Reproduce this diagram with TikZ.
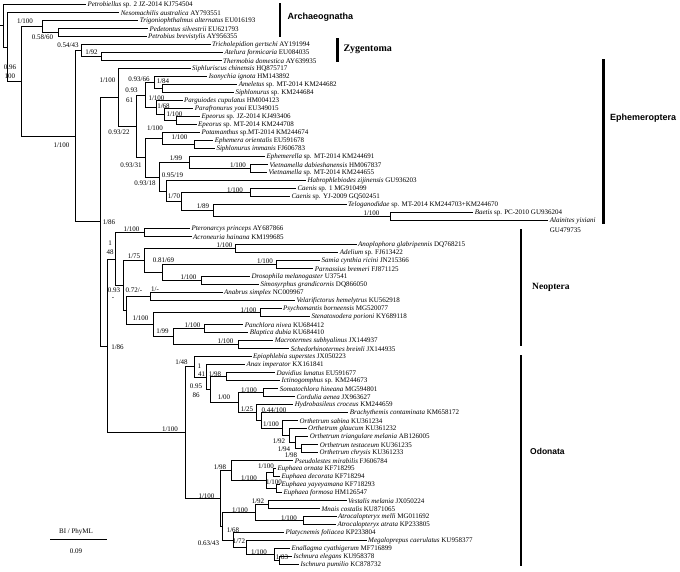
\documentclass[tikz,border=0pt]{standalone}
\usepackage{fontspec}
\setmainfont{Liberation Serif}
\newfontfamily\hsans{Liberation Sans}
\begin{document}
\begin{tikzpicture}[x=1pt,y=-1pt,
  br/.style={line width=1pt},
  lf/.style={anchor=west,inner sep=1.3pt,font=\fontsize{7}{8}\selectfont},
  sv/.style={inner sep=0pt,font=\fontsize{7}{8}\selectfont},
  cbar/.style={line width=2.8pt},
  cls/.style={anchor=west,inner sep=0pt,font=\hsans\bfseries\fontsize{9}{10}\selectfont},
  clr/.style={anchor=west,inner sep=0pt,font=\bfseries\fontsize{9.5}{10}\selectfont}]
\useasboundingbox (0,0) rectangle (680,571);
% internal nodes
\coordinate (rs) at (0,25.9);
\coordinate (root) at (3,25.9);
\coordinate (B) at (7,47.1);
\coordinate (A) at (21.7,81.5);
\coordinate (Tr) at (42.7,26.7);
\coordinate (PP) at (58,32.7);
\coordinate (C) at (75,136.25);
\coordinate (Zy) at (81.7,50.7);
\coordinate (AT) at (101.7,56.7);
\coordinate (P) at (100,221.8);
\coordinate (E) at (118.3,97.6);
\coordinate (n22) at (136,126.5);
\coordinate (n61) at (145.7,95.2);
\coordinate (nIso) at (154,82.7);
\coordinate (nAS) at (162.3,88.7);
\coordinate (nHep) at (156.7,107.7);
\coordinate (nPE) at (164,114.7);
\coordinate (nEp) at (176.7,120.7);
\coordinate (n31) at (145.7,157.9);
\coordinate (nPot) at (162.3,138.7);
\coordinate (nEph) at (194.3,144.7);
\coordinate (n18) at (159.3,177);
\coordinate (n99) at (189.3,162.7);
\coordinate (nViet) at (250.7,168.7);
\coordinate (n19) at (166.7,191.2);
\coordinate (n70) at (181,201.7);
\coordinate (nC) at (250.7,192.7);
\coordinate (n89) at (213.3,210.7);
\coordinate (nBae) at (390,216.7);
\coordinate (NO) at (107.3,346.0);
\coordinate (N) at (115,259.2);
\coordinate (nPl) at (144,232.7);
\coordinate (N2) at (123,285.7);
\coordinate (n75) at (144,260.7);
\coordinate (nCol) at (235,248.7);
\coordinate (n69) at (162.3,272.7);
\coordinate (nLep) at (276.7,264.7);
\coordinate (nDip) at (201.7,280.7);
\coordinate (n72) at (126,310.7);
\coordinate (nOrt) at (150,296.7);
\coordinate (nDict) at (153.3,324.7);
\coordinate (nMant) at (260,312.7);
\coordinate (nBl) at (173.3,336.7);
\coordinate (nBc) at (204.3,328.7);
\coordinate (nTe) at (238.3,344.7);
\coordinate (Od) at (185,432.8);
\coordinate (n48) at (194.3,366.95);
\coordinate (n41) at (206,377.2);
\coordinate (n86) at (210.7,389.7);
\coordinate (nGo) at (226.7,376.7);
\coordinate (nLib) at (238.3,402.65);
\coordinate (nSo) at (263.3,392.7);
\coordinate (n25) at (256.7,412.6);
\coordinate (n44) at (261.7,420.45);
\coordinate (nOr) at (282.7,428.2);
\coordinate (n92) at (289.3,435.7);
\coordinate (n94) at (295,442.7);
\coordinate (n98) at (301.7,448.7);
\coordinate (OdZ) at (220,498.6);
\coordinate (n98Z) at (231.7,470.7);
\coordinate (nEu) at (266.7,480.7);
\coordinate (nOD) at (273,472.7);
\coordinate (nYF) at (276,488.7);
\coordinate (n43) at (222.7,526.45);
\coordinate (nCal) at (255,512.7);
\coordinate (nVM) at (268.3,504.7);
\coordinate (nAt) at (303.3,520.7);
\coordinate (n68) at (233.3,540.2);
\coordinate (n72Z) at (246.7,547.7);
\coordinate (nEn) at (274,554.7);
\coordinate (nIs) at (279,560.7);
% leaves
\node[lf] (l0) at (86,4.7) {\textit{Petrobiellus} sp. 2 JZ-2014 KJ754504};
\node[lf] (l1) at (119.3,12.7) {\textit{Nesomachilis australica} AY793551};
\node[lf] (l2) at (138.3,20.7) {\textit{Trigoniophthalmus alternatus} EU016193};
\node[lf] (l3) at (148,28.7) {\textit{Pedetontus silvestrii} EU621793};
\node[lf] (l4) at (146.5,36.7) {\textit{Petrobius brevistylis} AY956355};
\node[lf] (l5) at (210.7,44.7) {\textit{Tricholepidion gertschi} AY191994};
\node[lf] (l6) at (223,52.7) {\textit{Atelura formicaria} EU084035};
\node[lf] (l7) at (221.7,60.7) {\textit{Thermobia domestica} AY639935};
\node[lf] (l8) at (190.7,68.7) {\textit{Siphluriscus chinensis} HQ875717};
\node[lf] (l9) at (207.3,76.7) {\textit{Isonychia ignota} HM143892};
\node[lf] (l10) at (237.3,84.7) {\textit{Ameletus} sp. MT-2014 KM244682};
\node[lf] (l11) at (234,92.7) {\textit{Siphlonurus} sp. KM244684};
\node[lf] (l12) at (182.7,100.7) {\textit{Parguiodes cupulatus} HM004123};
\node[lf] (l13) at (193.3,108.7) {\textit{Parafronurus youi} EU349015};
\node[lf] (l14) at (200,116.7) {\textit{Epeorus} sp. JZ-2014 KJ493406};
\node[lf] (l15) at (196.7,124.7) {\textit{Epeorus} sp. MT-2014 KM244708};
\node[lf] (l16) at (200,132.7) {\textit{Potamanthus} sp.MT-2014 KM244674};
\node[lf] (l17) at (213.3,140.7) {\textit{Ephemera orientalis} EU591678};
\node[lf] (l18) at (215,148.7) {\textit{Siphlonurus immanis} FJ606783};
\node[lf] (l19) at (265,156.7) {\textit{Ephemerella} sp. MT-2014 KM244691};
\node[lf] (l20) at (268,164.7) {\textit{Vietnamella dabieshanensis} HM067837};
\node[lf] (l21) at (267,172.7) {\textit{Vietnamella} sp. MT-2014 KM244655};
\node[lf] (l22) at (306,180.7) {\textit{Habrophlebiodes zijinensis} GU936203};
\node[lf] (l23) at (296,188.7) {\textit{Caenis} sp. 1 MG910499};
\node[lf] (l24) at (290,196.7) {\textit{Caenis} sp. YJ-2009 GQ502451};
\node[lf] (l25) at (346.7,204.7) {\textit{Teloganodidae} sp. MT-2014 KM244703+KM244670};
\node[lf] (l26) at (473.3,212.7) {\textit{Baetis} sp. PC-2010 GU936204};
\node[lf] (l27) at (548.3,220.7) {\textit{Alainites yixiani}};
\node[lf] (gu) at (548.3,230.7) {GU479735};
\node[lf] (l28) at (190,228.7) {\textit{Pteronarcys princeps} AY687866};
\node[lf] (l29) at (191.7,236.7) {\textit{Acroneuria hainana} KM199685};
\node[lf] (l30) at (356.7,244.7) {\textit{Anoplophora glabripennis} DQ768215};
\node[lf] (l31) at (338.3,252.7) {\textit{Adelium} sp. FJ613422};
\node[lf] (l32) at (320,260.7) {\textit{Samia cynthia ricini} JN215366};
\node[lf] (l33) at (313.3,268.7) {\textit{Parnassius bremeri} FJ871125};
\node[lf] (l34) at (250,276.7) {\textit{Drosophila melanogaster} U37541};
\node[lf] (l35) at (259,284.7) {\textit{Simosyrphus grandicornis} DQ866050};
\node[lf] (l36) at (222.7,292.7) {\textit{Anabrus simplex} NC009967};
\node[lf] (l37) at (295,300.7) {\textit{Velarifictorus hemelytrus} KU562918};
\node[lf] (l38) at (281.7,308.7) {\textit{Psychomantis borneensis} MG520077};
\node[lf] (l39) at (310,316.7) {\textit{Stenatoxodera porioni} KY689118};
\node[lf] (l40) at (243.3,324.7) {\textit{Panchlora nivea} KU684412};
\node[lf] (l41) at (248.3,332.7) {\textit{Blaptica dubia} KU684410};
\node[lf] (l42) at (273.3,340.7) {\textit{Macrotermes subhyalinus} JX144937};
\node[lf] (l43) at (289.3,348.7) {\textit{Schedorhinotermes breinli} JX144935};
\node[lf] (l44) at (251.7,356.7) {\textit{Epiophlebia superstes} JX050223};
\node[lf] (l45) at (245,364.7) {\textit{Anax imperator} KX161841};
\node[lf] (l46) at (275,372.7) {\textit{Davidius lunatus} EU591677};
\node[lf] (l47) at (280,380.7) {\textit{Ictinogomphus} sp. KM244673};
\node[lf] (l48) at (278.3,388.7) {\textit{Somatochlora hineana} MG594801};
\node[lf] (l49) at (295,396.7) {\textit{Cordulia aenea} JX963627};
\node[lf] (l50) at (293.3,404.7) {\textit{Hydrobasileus croceus} KM244659};
\node[lf] (l51) at (348.3,412.7) {\textit{Brachythemis contaminata} KM658172};
\node[lf] (l52) at (298,420.7) {\textit{Orthetrum sabina} KU361234};
\node[lf] (l53) at (306.7,428.7) {\textit{Orthetrum glaucum} KU361232};
\node[lf] (l54) at (308.3,436.7) {\textit{Orthetrum triangulare melania} AB126005};
\node[lf] (l55) at (318.3,444.7) {\textit{Orthetrum testaceum} KU361235};
\node[lf] (l56) at (318,452.7) {\textit{Orthetrum chrysis} KU361233};
\node[lf] (l57) at (293.3,460.7) {\textit{Pseudolestes mirabilis} FJ606784};
\node[lf] (l58) at (276,468.7) {\textit{Euphaea ornata} KF718295};
\node[lf] (l59) at (280,476.7) {\textit{Euphaea decorata} KF718294};
\node[lf] (l60) at (280,484.7) {\textit{Euphaea yayeyamana} KF718293};
\node[lf] (l61) at (282,492.7) {\textit{Euphaea formosa} HM126547};
\node[lf] (l62) at (346.7,500.7) {\textit{Vestalis melania} JX050224};
\node[lf] (l63) at (320,508.7) {\textit{Mnais costalis} KU871065};
\node[lf] (l64) at (336.7,516.7) {\textit{Atrocalopteryx melli} MG011692};
\node[lf] (l65) at (336,524.7) {\textit{Atrocalopteryx atrata} KP233805};
\node[lf] (l66) at (284,532.7) {\textit{Platycnemis foliacea} KP233804};
\node[lf] (l67) at (366.7,540.7) {\textit{Megaloprepus caerulatus} KU958377};
\node[lf] (l68) at (290,548.7) {\textit{Enallagma cyathigerum} MF716899};
\node[lf] (l69) at (292,556.7) {\textit{Ischnura elegans} KU958378};
\node[lf] (l70) at (299,564.7) {\textit{Ischnura pumilio} KC878732};
% branches
\draw[br] (rs) -- (root);
\foreach \p/\c in {root/l0,root/B,B/l1,B/A,A/Tr,A/C,Tr/l2,Tr/PP,PP/l3,PP/l4,
  C/Zy,C/P,Zy/l5,Zy/AT,AT/l6,AT/l7,P/E,P/NO,E/l8,E/n22,n22/n61,n22/n31,
  n61/nIso,n61/nHep,nIso/l9,nIso/nAS,nAS/l10,nAS/l11,nHep/l12,nHep/nPE,
  nPE/l13,nPE/nEp,nEp/l14,nEp/l15,n31/nPot,n31/n18,nPot/l16,nPot/nEph,
  nEph/l17,nEph/l18,n18/n99,n18/n19,n99/l19,n99/nViet,nViet/l20,nViet/l21,
  n19/l22,n19/n70,n70/nC,n70/n89,nC/l23,nC/l24,n89/l25,n89/nBae,nBae/l26,nBae/l27,
  NO/N,NO/Od,N/nPl,N/N2,nPl/l28,nPl/l29,N2/n75,N2/n72,n75/nCol,n75/n69,
  nCol/l30,nCol/l31,n69/nLep,n69/nDip,nLep/l32,nLep/l33,nDip/l34,nDip/l35,
  n72/nOrt,n72/nDict,nOrt/l36,nOrt/l37,nDict/nMant,nDict/nBl,nMant/l38,nMant/l39,
  nBl/nBc,nBl/nTe,nBc/l40,nBc/l41,nTe/l42,nTe/l43,
  Od/n48,Od/OdZ,n48/l44,n48/n41,n41/l45,n41/n86,n86/nGo,n86/nLib,nGo/l46,nGo/l47,
  nLib/nSo,nLib/n25,nSo/l48,nSo/l49,n25/l50,n25/n44,n44/l51,n44/nOr,nOr/l52,nOr/n92,
  n92/l53,n92/n94,n94/l54,n94/n98,n98/l55,n98/l56,
  OdZ/n98Z,OdZ/n43,n98Z/l57,n98Z/nEu,nEu/nOD,nEu/nYF,nOD/l58,nOD/l59,nYF/l60,nYF/l61,
  n43/nCal,n43/n68,nCal/nVM,nCal/nAt,nVM/l62,nVM/l63,nAt/l64,nAt/l65,
  n68/l66,n68/n72Z,n72Z/l67,n72Z/nEn,nEn/l68,nEn/nIs,nIs/l69,nIs/l70}
  {\draw[br] (\p) |- (\c);}
% support values
\foreach \x/\y/\t in {25/21.7/1\slash 100, 42.5/37.3/0.58\slash 60, 68/45/0.54\slash 43,
  91.5/52.3/1\slash 92, 10/67.3/0.96, 10/76.7/100, 107.5/80/1\slash 100,
  139/79.3/0.93\slash 66, 163/81/1\slash 84, 131.5/90/0.93, 129.5/100/61,
  156.5/98.3/1\slash 100, 163.5/106.7/1\slash 68, 174.5/114/1\slash 100,
  61.5/145/1\slash 100, 119/132.3/0.93\slash 22, 155/128.3/1\slash 100,
  179.5/137.7/1\slash 100, 176/158.3/1\slash 99, 238/165/1\slash 100,
  131/165.7/0.93\slash 31, 172.5/175/0.95\slash 19, 145/183.3/0.93\slash 18,
  235/190/1\slash 100, 174/196.7/1\slash 70, 203/206.7/1\slash 89,
  371.5/213.3/1\slash 100, 109/222.3/1\slash 86,
  131.5/229.3/1\slash 100, 110/242.7/1, 110/252.7/48, 224.5/245/1\slash 100,
  134/256/1\slash 75, 163.5/260/0.81\slash 69, 265/261/1\slash 100,
  188.5/277.3/1\slash 100, 114/290/0.93, 113/298.3/-, 134/290/0.72\slash -,
  155/289/1\slash -, 140.5/318.3/1\slash 100, 248.5/310/1\slash 100,
  162.5/331.7/1\slash 99, 192.5/325/1\slash 100, 225.5/341/1\slash 100,
  117.5/346.7/1\slash 86,
  170/429.3/1\slash 100, 181.5/362.3/1\slash 48, 199.3/365.7/1, 201.7/374.3/41,
  215/374.3/1\slash 98, 196/386/0.95, 196/395/86, 249/390/1\slash 100,
  224/396.7/1\slash 00, 247/409.3/1\slash 25, 274/410.5/0.44\slash 100,
  271/424.3/1\slash 100, 279/441.7/1\slash 92, 284/449.3/1\slash 94,
  291/455/1\slash 98, 220/467.3/1\slash 98, 266/466.5/1\slash 100,
  249/477.7/1\slash 100, 274/482.3/1\slash 100, 206.5/495.7/1\slash 100,
  258/501.7/1\slash 92, 240/510/1\slash 100, 289/518.3/1\slash 100,
  233/530/1\slash 68, 239/541/1\slash 72, 208.5/543.3/0.63\slash 43,
  259/552.3/1\slash 100, 282/556.7/1\slash 83}
  {\node[sv] at (\x,\y) {\t};}
% clade bars and names
\coordinate (ar1) at (280,3); \coordinate (ar2) at (280,37);
\draw[cbar] (ar1) -- (ar2);
\node[cls] (arn) at (287.3,16.7) {Archaeognatha};
\coordinate (zy1) at (337.7,38); \coordinate (zy2) at (337.7,62);
\draw[cbar] (zy1) -- (zy2);
\node[clr,font=\bfseries\fontsize{10}{11}\selectfont] (zyn) at (343.3,49) {Zygentoma};
\coordinate (ep1) at (603.3,59.3); \coordinate (ep2) at (603.3,224);
\draw[cbar] (ep1) -- (ep2);
\node[cls] (epn) at (610,118.3) {Ephemeroptera};
\coordinate (ne1) at (521,229.3); \coordinate (ne2) at (521,346);
\draw[cbar] (ne1) -- (ne2);
\node[clr] (nen) at (532,287) {Neoptera};
\coordinate (od1) at (521,355); \coordinate (od2) at (521,565.7);
\draw[cbar] (od1) -- (od2);
\node[cls,font=\hsans\bfseries\fontsize{8.5}{10}\selectfont] (odn) at (530,451.7) {Odonata};
% scale bar
\coordinate (sb1) at (50,539.3); \coordinate (sb2) at (107,539.3);
\draw[br] (sb1) -- (sb2);
\node[sv] (sbt) at (76,532.3) {BI / PhyML};
\node[sv] (sbv) at (76,551) {0.09};
\end{tikzpicture}
\end{document}
